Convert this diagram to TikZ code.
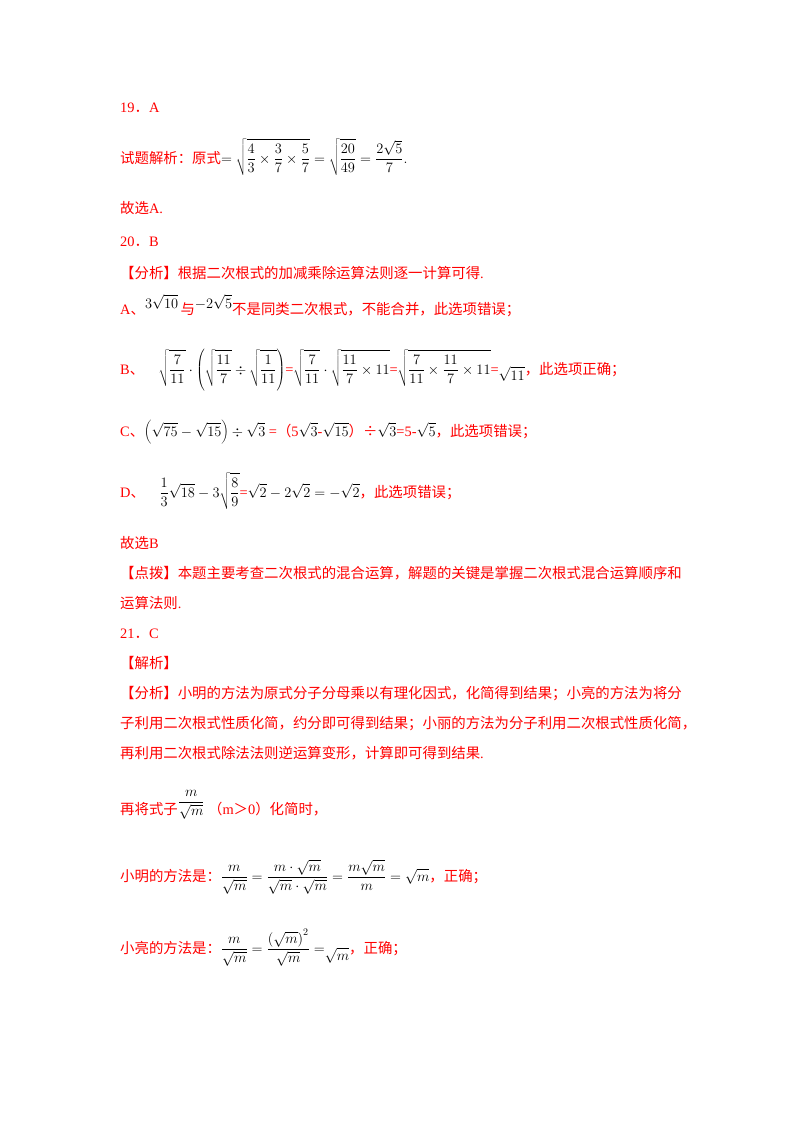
\documentclass[tikz,border=0pt]{standalone}
\usepackage{fontspec}
\setmainfont{Liberation Serif}
\newfontfamily\cjk{Noto Sans CJK SC}
\newcommand\zh[1]{{\cjk #1}}
\newcommand\mth[1]{\textcolor{black}{$\displaystyle #1$}}
\begin{document}
\begin{tikzpicture}[x=1pt,y=-1pt,
  ln/.style={anchor=base west,inner sep=0pt,text=red,font=\fontsize{14.4}{17}\selectfont}]
\useasboundingbox[fill=white] (0,0) rectangle (800,1132);
\node[ln] (l1) at (120,112) {19\zh{．}A};
\node[ln] (l2) at (120,163) {\zh{试题解析：原式}\mth{=\sqrt{\frac43\times\frac37\times\frac57}=\sqrt{\frac{20}{49}}=\frac{2\sqrt5}{7}.}};
\node[ln] (l3) at (120,213) {\zh{故选}A.};
\node[ln] (l4) at (120,246) {20\zh{．}B};
\node[ln] (l5) at (120,278) {\zh{【分析】根据二次根式的加减乘除运算法则逐一计算可得}.};
\node[ln] (l6) at (120,314) {A\zh{、}\raisebox{6pt}{\mth{3\sqrt{10}}}\,\zh{与}\raisebox{6pt}{\mth{-2\sqrt5}}\zh{不是同类二次根式，不能合并，此选项错误；}};
\node[ln] (l7) at (120,374) {B\zh{、}\quad\mth{\sqrt{\frac7{11}}\cdot\left(\sqrt{\frac{11}7}\div\sqrt{\frac1{11}}\right)}=\mth{\sqrt{\frac7{11}}\cdot\sqrt{\frac{11}7\times11}}=\mth{\sqrt{\frac7{11}\times\frac{11}7\times11}}=\raisebox{-6pt}{\mth{\sqrt{11}}}\zh{，此选项正确；}};
\node[ln] (l8) at (120,436) {C\zh{、}\mth{\left(\sqrt{75}-\sqrt{15}\right)\div\sqrt3}\ =\zh{（}5\mth{\sqrt3}-\mth{\sqrt{15}}\zh{）÷}\mth{\sqrt3}=5-\mth{\sqrt5}\zh{，此选项错误；}};
\node[ln] (l9) at (120,497) {D\zh{、}\quad\mth{\frac13\sqrt{18}-3\sqrt{\frac89}}=\mth{\sqrt2-2\sqrt2=-\sqrt2}\zh{，此选项错误；}};
\node[ln] (l10) at (120,548) {\zh{故选}B};
\node[ln] (l11) at (120,578) {\zh{【点拨】本题主要考查二次根式的混合运算，解题的关键是掌握二次根式混合运算顺序和}};
\node[ln] (l12) at (120,608) {\zh{运算法则}.};
\node[ln] (l13) at (120,638) {21\zh{．}C};
\node[ln] (l14) at (120,668) {\zh{【解析】}};
\node[ln] (l15) at (120,698) {\zh{【分析】小明的方法为原式分子分母乘以有理化因式，化简得到结果；小亮的方法为将分}};
\node[ln] (l16) at (120,728) {\zh{子利用二次根式性质化简，约分即可得到结果；小丽的方法为分子利用二次根式性质化简，}};
\node[ln] (l17) at (120,758) {\zh{再利用二次根式除法法则逆运算变形，计算即可得到结果}.};
\node[ln] (l18) at (120,814) {\zh{再将式子}\raisebox{8pt}{\mth{\frac{m}{\sqrt m}}}\ \zh{（}m\zh{＞}0\zh{）化简时，}};
\node[ln] (l19) at (120,881) {\zh{小明的方法是：}\mth{\frac{m}{\sqrt m}=\frac{m\cdot\sqrt m}{\sqrt m\cdot\sqrt m}=\frac{m\sqrt m}{m}=\sqrt m}\zh{，正确；}};
\node[ln] (l20) at (120,953) {\zh{小亮的方法是：}\mth{\frac{m}{\sqrt m}=\frac{\left(\sqrt m\right)^2}{\sqrt m}=}\raisebox{-7pt}{\mth{\sqrt m}}\zh{，正确；}};
\end{tikzpicture}
\end{document}
